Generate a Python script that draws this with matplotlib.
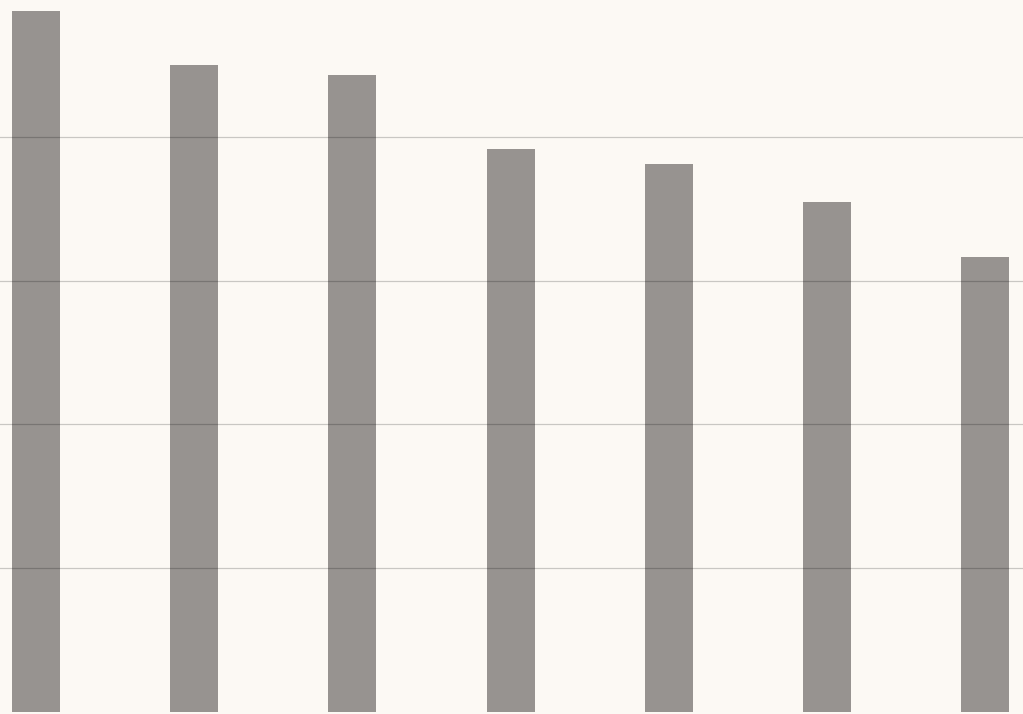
import matplotlib
matplotlib.use("Agg")
import matplotlib.pyplot as plt

categories = ["A", "B", "C", "D", "E", "F", "G"]
values = [4.88, 4.50, 4.43, 3.92, 3.81, 3.55, 3.165]
grid_values = [1, 2, 3, 4]

fig = plt.figure(figsize=(10.23, 7.14), dpi=100)
fig.patch.set_facecolor("#fcf9f4")
ax = fig.add_axes([0, 0, 1, 1])
ax.set_facecolor("#fcf9f4")

x = list(range(len(categories)))
ax.bar(x, values, width=0.303, color="#979390", zorder=1)
for g in grid_values:
    ax.axhline(g, color="#000000", alpha=0.2, linewidth=0.9, zorder=2)

ax.set_xlim(-0.2276, 6.239)
ax.set_ylim(-0.016, 4.954)
ax.set_xticks([])
ax.set_yticks([])
for s in ax.spines.values():
    s.set_visible(False)

fig.savefig("out.png", dpi=100, facecolor=fig.get_facecolor())
